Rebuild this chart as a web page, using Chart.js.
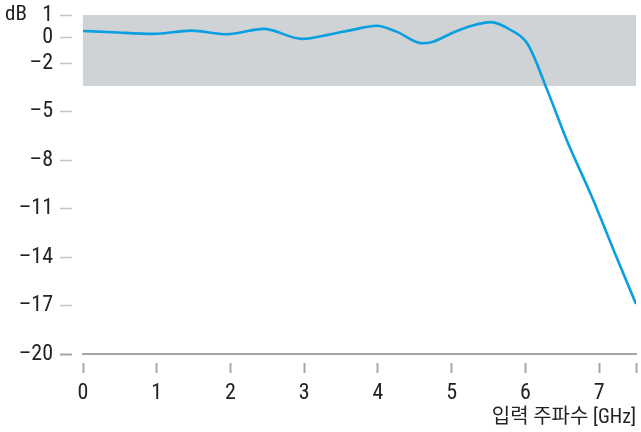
<!DOCTYPE html>
<html><head><meta charset="utf-8">
<script src="https://cdn.jsdelivr.net/npm/chart.js@4"></script>
<style>html,body{margin:0;padding:0;background:#fff}#wrap{width:641px;height:432px}</style>
</head><body><div id="wrap"><canvas id="c" width="641" height="432"></canvas></div>
<script>
const freqGHz = [0, 0.4, 0.95, 1.47, 1.95, 2.45, 2.97, 3.35, 3.65, 3.98, 4.25, 4.6, 4.75, 5.0, 5.25, 5.53, 5.8, 6.03, 6.3, 6.56, 6.9, 7.2, 7.5];
const gainDb = [0.01, -0.07, -0.17, 0.03, -0.19, 0.14, -0.48, -0.2, 0.08, 0.33, -0.03, -0.75, -0.65, -0.13, 0.3, 0.56, 0.07, -0.8, -3.7, -6.74, -10.25, -13.6, -16.9];
const bandRange = [1, -3.4];
const xRange = [0, 7.5];
const yRange = [-20, 1];
const xTickValues = [0, 1, 2, 3, 4, 5, 6, 7, 7.5];
const xTickLabels = ['0', '1', '2', '3', '4', '5', '6', '7', ''];
const yTickValues = [1, -0.4, -2, -5, -8, -11, -14, -17, -20];
const yTickLabels = ['1', '0', '\u20132', '\u20135', '\u20138', '\u201311', '\u201314', '\u201317', '\u201320'];
const yUnit = 'dB';
const xTitle = '입력 주파수 [GHz]';

const FONT = "'Liberation Sans Narrow', 'Roboto Condensed', 'Noto Sans CJK KR', 'Liberation Sans', sans-serif";
const LINE = '#0a9fe0';
const AXIS = '#a2a7ac';
const TICK = '#c3c7cb';

const unitLabel = {
  id: 'unitLabel',
  afterDraw(chart) {
    const ctx = chart.ctx;
    const y = chart.scales.y.getPixelForValue(yTickValues[0]);
    ctx.save();
    ctx.font = '21px ' + FONT;
    ctx.fillStyle = '#222';
    ctx.textAlign = 'left';
    ctx.textBaseline = 'middle';
    ctx.fillText(yUnit, 5, y);
    ctx.restore();
  }
};

new Chart(document.getElementById('c'), {
  type: 'line',
  data: {
    datasets: [
      {
        data: freqGHz.map((f, i) => ({x: f, y: gainDb[i]})),
        borderColor: LINE,
        borderWidth: 2.6,
        pointRadius: 0,
        fill: false,
        cubicInterpolationMode: 'monotone'
      },
      {
        data: [{x: xRange[0], y: bandRange[0]}, {x: xRange[1], y: bandRange[0]}],
        borderWidth: 0,
        borderColor: 'rgba(0,0,0,0)',
        backgroundColor: '#cfd3d6',
        pointRadius: 0,
        fill: {value: bandRange[1]}
      }
    ]
  },
  options: {
    responsive: false,
    animation: false,
    devicePixelRatio: 1,
    layout: {padding: {left: 0, right: 5, top: 15, bottom: 0}},
    plugins: {legend: {display: false}, tooltip: {enabled: false}},
    scales: {
      x: {
        type: 'linear',
        min: xRange[0], max: xRange[1],
        afterBuildTicks: s => { s.ticks = xTickValues.map(v => ({value: v})); },
        afterFit: s => { s.height = 78; s.paddingLeft = 0; s.paddingRight = 0; },
        grid: {
          drawOnChartArea: false, drawTicks: true,
          tickLength: 19, tickColor: AXIS, tickWidth: 2,
          tickBorderDash: [11, 8], tickBorderDashOffset: 11
        },
        border: {display: true, color: AXIS, width: 2},
        ticks: {
          autoSkip: false, maxRotation: 0, padding: 7, color: '#222',
          font: {family: FONT, size: 22},
          callback: (v, i) => xTickLabels[i]
        },
        title: {
          display: true, text: xTitle, align: 'end', color: '#222',
          font: {family: FONT, size: 20},
          padding: {top: 2, bottom: 2}
        }
      },
      y: {
        type: 'linear',
        min: yRange[0], max: yRange[1],
        afterBuildTicks: s => { s.ticks = yTickValues.map(v => ({value: v})); },
        afterFit: s => { s.width = 83; s.paddingTop = 0; s.paddingBottom = 0; },
        grid: {
          drawOnChartArea: false, drawTicks: true,
          tickLength: 23,
          tickColor: c => (c.tick && c.tick.value === yRange[0]) ? AXIS : TICK,
          tickWidth: c => (c.tick && c.tick.value === yRange[0]) ? 2 : 1.5,
          tickBorderDash: [12, 11]
        },
        border: {display: false},
        ticks: {
          autoSkip: false, padding: 7, color: '#222',
          font: {family: FONT, size: 22},
          callback: (v, i) => yTickLabels[i]
        }
      }
    }
  },
  plugins: [unitLabel]
});
</script>
</body></html>
